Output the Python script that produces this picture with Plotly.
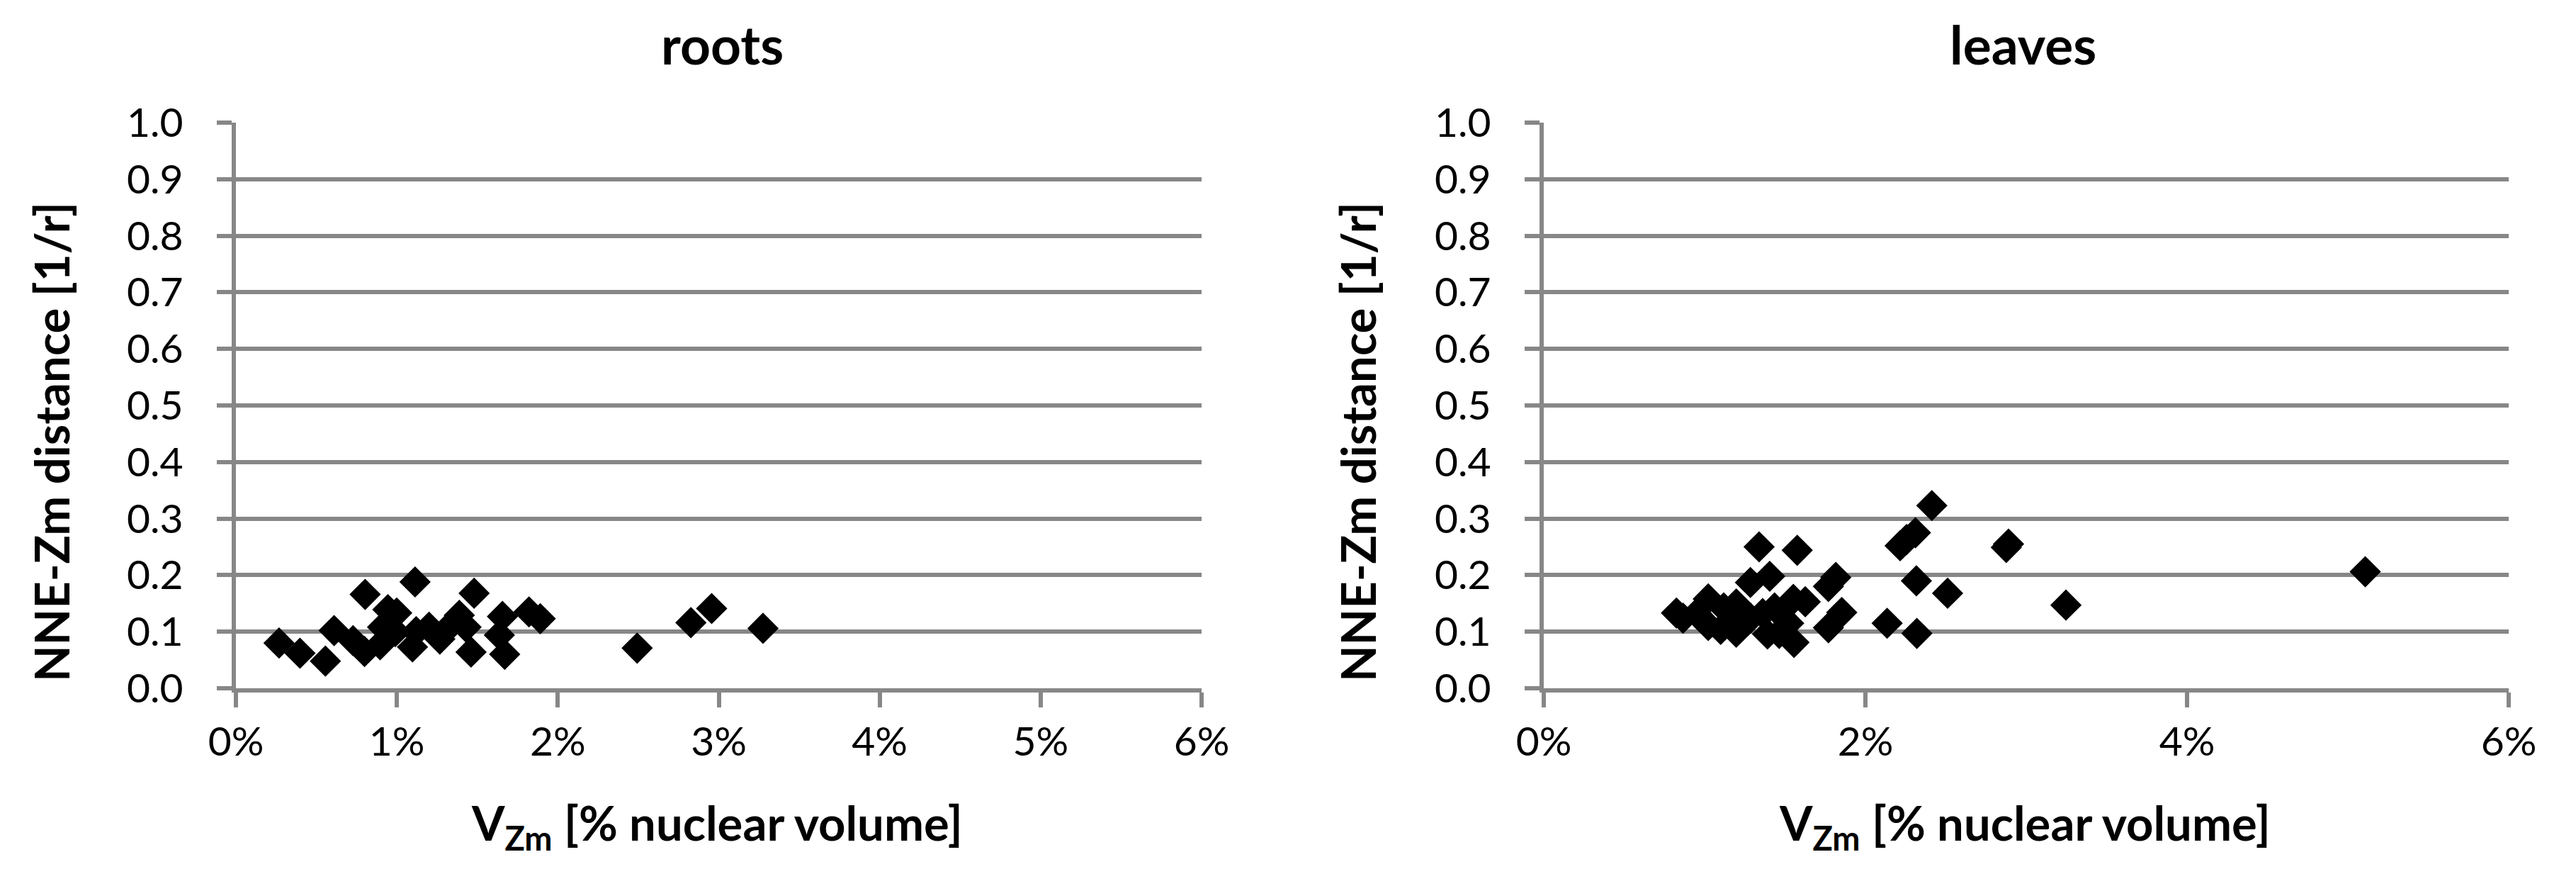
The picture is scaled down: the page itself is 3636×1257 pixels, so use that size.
import plotly.graph_objects as go

# ---- data (x in % nuclear volume, y = NNE-Zm distance [1/r]) ----
roots_x = [0.268, 0.398, 0.556, 0.610, 0.728, 0.799, 0.803, 0.896, 0.911, 0.944,
           0.999, 0.990, 1.097, 1.113, 1.120, 1.200, 1.267, 1.330, 1.388, 1.430,
           1.461, 1.480, 1.637, 1.656, 1.670, 1.821, 1.891, 2.493, 2.827, 2.956,
           3.275]
roots_y = [0.080, 0.062, 0.048, 0.102, 0.084, 0.065, 0.166, 0.077, 0.108, 0.139,
           0.133, 0.100, 0.073, 0.188, 0.100, 0.108, 0.087, 0.110, 0.129, 0.108,
           0.064, 0.168, 0.094, 0.127, 0.060, 0.135, 0.123, 0.071, 0.116, 0.141,
           0.106]

leaves_x = [0.825, 0.866, 0.950, 1.023, 1.023, 1.100, 1.119, 1.197, 1.197, 1.229,
            1.285, 1.286, 1.339, 1.361, 1.391, 1.405, 1.435, 1.464, 1.523, 1.552,
            1.556, 1.576, 1.626, 1.770, 1.770, 1.816, 1.853, 2.135, 2.216, 2.256,
            2.311, 2.317, 2.320, 2.413, 2.511, 2.876, 2.890, 3.247, 5.108]
leaves_y = [0.133, 0.124, 0.132, 0.158, 0.111, 0.104, 0.142, 0.149, 0.099, 0.119,
            0.187, 0.124, 0.250, 0.132, 0.096, 0.198, 0.142, 0.097, 0.115, 0.157,
            0.081, 0.244, 0.153, 0.180, 0.107, 0.196, 0.134, 0.115, 0.252, 0.263,
            0.275, 0.190, 0.097, 0.323, 0.168, 0.249, 0.255, 0.147, 0.206]

panel_titles = ["roots", "leaves"]
x_title = "V<sub>Zm</sub> [% nuclear volume]"
y_title = "NNE-Zm distance [1/r]"
roots_xticks = [0, 1, 2, 3, 4, 5, 6]
leaves_xticks = [0, 2, 4, 6]
y_ticks = [0.0, 0.1, 0.2, 0.3, 0.4, 0.5, 0.6, 0.7, 0.8, 0.9, 1.0]

W, H = 3636, 1257
GRID = "#878787"
FONT = "Lato, Open Sans, sans-serif"

fig = go.Figure()
marker = dict(symbol="diamond", size=34, color="black", line=dict(width=0))
fig.add_trace(go.Scatter(x=roots_x, y=roots_y, mode="markers", marker=marker,
                         xaxis="x", yaxis="y", showlegend=False))
fig.add_trace(go.Scatter(x=leaves_x, y=leaves_y, mode="markers", marker=marker,
                         xaxis="x2", yaxis="y2", showlegend=False))

def xax(domain, ticks, anchor):
    return dict(domain=domain, range=[0, 6], tickvals=ticks,
                ticktext=[f"{t}%" for t in ticks], anchor=anchor, automargin=False,
                showgrid=False, zeroline=False, showline=True, linecolor=GRID,
                linewidth=6, ticks="outside", ticklen=21, tickwidth=6,
                tickcolor=GRID, ticklabelstandoff=0,
                tickfont=dict(family=FONT, size=57, color="black"))

def yax(domain, anchor):
    return dict(domain=domain, range=[0, 1.0], tickvals=y_ticks,
                ticktext=[f"{t:.1f}" for t in y_ticks], anchor=anchor, automargin=False,
                showgrid=True, gridcolor=GRID, gridwidth=6, zeroline=False,
                showline=True, linecolor=GRID, linewidth=6, ticks="outside",
                ticklen=21, tickwidth=6, tickcolor=GRID, ticklabelstandoff=36,
                tickfont=dict(family=FONT, size=57, color="black"))

ydom = [(H - 963) / H, (H - 165) / H]
fig.update_layout(
    width=W, height=H, margin=dict(l=0, r=0, t=0, b=0, autoexpand=False),
    paper_bgcolor="white", plot_bgcolor="white",
    xaxis=xax([325 / W, 1688 / W], roots_xticks, "y"),
    yaxis=yax(ydom, "x"),
    xaxis2=xax([2171 / W, 3533 / W], leaves_xticks, "y2"),
    yaxis2=yax(ydom, "x2"),
)

ann = []
for title, cx in zip(panel_titles, [1011, 2847]):
    ann.append(dict(text=f"<b>{title}</b>", x=cx / W, y=1 - 54 / H, xref="paper",
                    yref="paper", showarrow=False, xanchor="center", yanchor="middle",
                    font=dict(family=FONT, size=75, color="black")))
for cx in [1004, 2850]:
    ann.append(dict(text=f"<b>{x_title}</b>", x=cx / W, y=1 - 1157 / H, xref="paper",
                    yref="paper", showarrow=False, xanchor="center", yanchor="middle",
                    font=dict(family=FONT, size=67, color="black")))
for cx in [64, 1908]:
    ann.append(dict(text=f"<b>{y_title}</b>", x=cx / W, y=1 - 616 / H, xref="paper",
                    yref="paper", showarrow=False, xanchor="center", yanchor="middle",
                    textangle=-90, font=dict(family=FONT, size=67, color="black")))
fig.update_layout(annotations=ann)

fig.write_html("out.html")
